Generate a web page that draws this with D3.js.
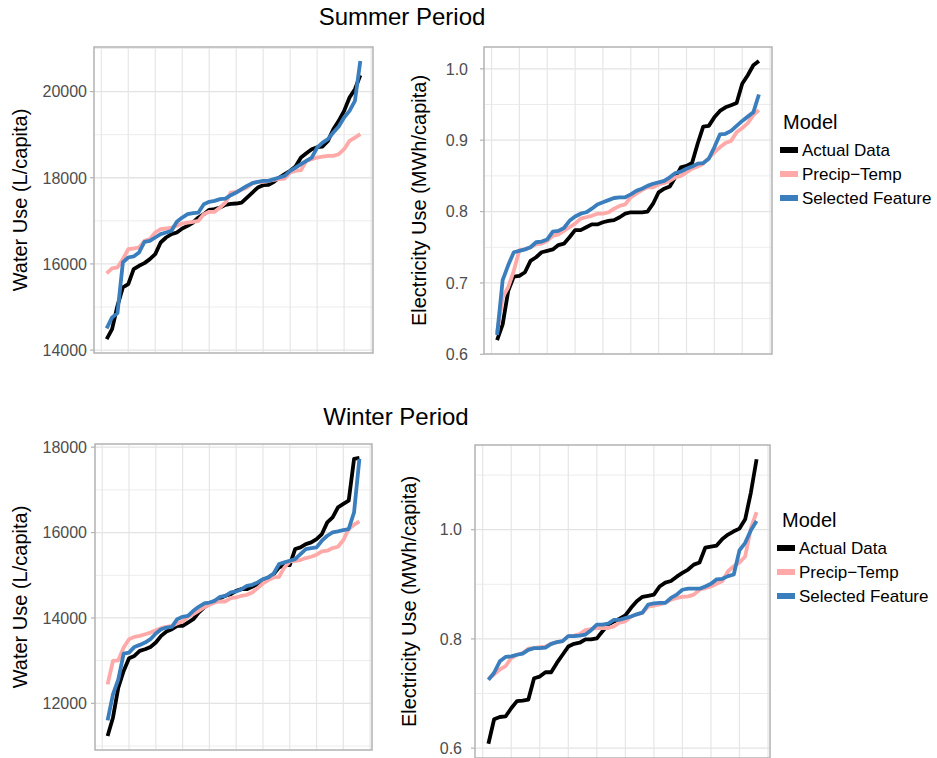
<!DOCTYPE html>
<html>
<head>
<meta charset="utf-8">
<script src="https://cdn.jsdelivr.net/npm/d3@7"></script>
<style>
  body { margin: 0; background: #fff; }
  svg { font-family: "Liberation Sans", Arial, sans-serif; }
</style>
</head>
<body>
<div id="chart"></div>
<script>
////////////////////////////////////////////////////////////
//////////////////////// Data //////////////////////////////
////////////////////////////////////////////////////////////
var models = ["Actual Data", "Precip\u2212Temp", "Selected Feature"];
var modelColors = ["#000000", "#ffa9a9", "#3a7ebd"];

var summerWaterActual = [14255,14487,15028,15454,15531,15879,15956,16018,16111,16227,16497,16613,16691,16729,16822,16884,16961,17077,17155,17255,17271,17309,17371,17394,17402,17425,17541,17657,17773,17827,17835,17905,18005,18083,18160,18260,18469,18570,18662,18709,18724,18856,19126,19320,19552,19861,20054,20379];
var summerWaterPrecip = [15778,15894,15917,16111,16343,16358,16381,16536,16575,16729,16807,16822,16845,16884,16938,16961,16977,17000,17155,17209,17209,17309,17425,17657,17673,17719,17773,17874,17905,17905,17928,17951,17967,17982,18121,18160,18175,18392,18430,18469,18492,18508,18508,18546,18662,18856,18933,19010];
var summerWaterSelected = [14503,14758,14858,16034,16149,16173,16266,16513,16536,16613,16691,16729,16768,16977,17077,17155,17178,17193,17387,17441,17464,17503,17518,17595,17657,17735,17812,17874,17905,17928,17928,17967,18005,18044,18160,18237,18315,18392,18469,18701,18817,18896,19050,19188,19397,19552,19784,20712];

var summerElecActual = [0.620,0.642,0.689,0.709,0.710,0.715,0.731,0.736,0.743,0.745,0.747,0.753,0.755,0.764,0.774,0.774,0.778,0.782,0.782,0.785,0.787,0.788,0.792,0.797,0.799,0.799,0.799,0.800,0.811,0.827,0.832,0.835,0.848,0.862,0.864,0.868,0.895,0.919,0.920,0.932,0.941,0.946,0.949,0.952,0.979,0.991,1.005,1.011];
var summerElecPrecip = [0.630,0.680,0.694,0.717,0.746,0.747,0.750,0.754,0.755,0.759,0.766,0.768,0.773,0.778,0.783,0.790,0.792,0.794,0.797,0.797,0.799,0.804,0.808,0.810,0.820,0.825,0.830,0.834,0.834,0.838,0.840,0.843,0.848,0.850,0.855,0.860,0.863,0.867,0.875,0.883,0.890,0.896,0.899,0.911,0.917,0.924,0.935,0.942];
var summerElecSelected = [0.627,0.704,0.725,0.743,0.745,0.747,0.750,0.757,0.758,0.761,0.772,0.773,0.777,0.787,0.793,0.797,0.799,0.804,0.810,0.813,0.816,0.819,0.820,0.820,0.824,0.829,0.832,0.836,0.839,0.841,0.843,0.848,0.854,0.856,0.860,0.863,0.867,0.868,0.874,0.890,0.908,0.909,0.913,0.920,0.927,0.933,0.939,0.964];

var winterWaterActual = [11233,11664,12368,12759,13056,13111,13228,13267,13322,13424,13580,13682,13736,13815,13815,13893,13971,14128,14245,14323,14401,14464,14519,14558,14636,14675,14675,14730,14792,14886,14949,15027,15184,15240,15240,15614,15653,15731,15770,15848,15966,16239,16357,16591,16670,16748,17726,17749];
var winterWaterPrecip = [12446,12993,13009,13306,13502,13557,13580,13619,13658,13713,13760,13791,13815,13869,13916,14026,14088,14167,14245,14307,14362,14386,14386,14464,14480,14519,14542,14597,14699,14808,14886,14949,14965,15184,15324,15340,15356,15403,15434,15481,15559,15575,15637,15668,15825,16083,16185,16263];
var winterWaterSelected = [11601,12211,12563,13165,13189,13322,13369,13424,13502,13635,13736,13776,13791,13971,14026,14049,14167,14261,14339,14362,14401,14495,14519,14597,14620,14675,14753,14777,14832,14910,14949,15043,15262,15301,15340,15379,15496,15614,15637,15653,15809,15926,16005,16028,16060,16083,16474,17726];

var winterElecActual = [0.608,0.653,0.657,0.658,0.673,0.686,0.687,0.689,0.728,0.731,0.739,0.739,0.756,0.771,0.786,0.791,0.793,0.799,0.799,0.801,0.814,0.826,0.832,0.837,0.843,0.857,0.869,0.877,0.879,0.881,0.896,0.903,0.906,0.914,0.921,0.927,0.936,0.940,0.967,0.969,0.971,0.983,0.991,0.997,1.002,1.019,1.068,1.129];
var winterElecPrecip = [0.727,0.735,0.744,0.750,0.765,0.771,0.774,0.782,0.783,0.785,0.786,0.791,0.794,0.796,0.805,0.806,0.809,0.816,0.818,0.820,0.820,0.820,0.823,0.830,0.832,0.841,0.845,0.848,0.859,0.861,0.863,0.866,0.872,0.875,0.877,0.878,0.881,0.890,0.893,0.896,0.901,0.906,0.924,0.933,0.940,0.951,1.003,1.032];
var winterElecSelected = [0.725,0.738,0.759,0.767,0.768,0.771,0.773,0.780,0.783,0.783,0.784,0.791,0.794,0.796,0.805,0.805,0.806,0.808,0.816,0.826,0.826,0.828,0.835,0.835,0.838,0.841,0.845,0.848,0.863,0.865,0.866,0.866,0.875,0.881,0.890,0.892,0.892,0.892,0.896,0.901,0.909,0.910,0.915,0.918,0.962,0.976,0.999,1.016];

// axis breaks
var xBreaks = [0, 5, 10, 15, 20, 25, 30, 35, 40, 45, 50];
var summerWaterTicks = [14000, 16000, 18000, 20000];
var summerWaterMinor = [15000, 17000, 19000, 21000];
var summerElecTicks = [0.6, 0.7, 0.8, 0.9, 1.0];
var summerElecMinor = [0.65, 0.75, 0.85, 0.95];
var winterWaterTicks = [12000, 14000, 16000, 18000];
var winterWaterMinor = [11000, 13000, 15000, 17000];
var winterElecTicks = [0.6, 0.8, 1.0];
var winterElecMinor = [0.7, 0.9, 1.1];

////////////////////////////////////////////////////////////
//////////////////////// Setup /////////////////////////////
////////////////////////////////////////////////////////////
var W = 937, H = 758;

var svg = d3.select("#chart").append("svg")
  .attr("width", W).attr("height", H);

var panels = [
  {x0: 94, x1: 373, y0: 47, y1: 353, series: [summerWaterActual, summerWaterPrecip, summerWaterSelected],
   ticks: summerWaterTicks, minor: summerWaterMinor, fmt: d3.format("d"), labelX: 87, title: "Water Use (L/capita)", titleX: 20},
  {x0: 484, x1: 772, y0: 47, y1: 354, series: [summerElecActual, summerElecPrecip, summerElecSelected],
   ticks: summerElecTicks, minor: summerElecMinor, fmt: d3.format(".1f"), labelX: 468, title: "Electricity Use (MWh/capita)", titleX: 419},
  {x0: 95, x1: 372, y0: 444, y1: 750, series: [winterWaterActual, winterWaterPrecip, winterWaterSelected],
   ticks: winterWaterTicks, minor: winterWaterMinor, fmt: d3.format("d"), labelX: 87, title: "Water Use (L/capita)", titleX: 20},
  {x0: 475, x1: 770, y0: 445, y1: 758, series: [winterElecActual, winterElecPrecip, winterElecSelected],
   ticks: winterElecTicks, minor: winterElecMinor, fmt: d3.format(".1f"), labelX: 462, title: "Electricity Use (MWh/capita)", titleX: 409}
];

// ggplot style 5% expansion
function expand(ext){
  var r = ext[1] - ext[0];
  return [ext[0] - r * 0.05, ext[1] + r * 0.05];
}

////////////////////////////////////////////////////////////
//////////////////////// Panels ////////////////////////////
////////////////////////////////////////////////////////////
panels.forEach(function(p){
  var n = p.series[0].length;
  var x = d3.scaleLinear().domain(expand([1, n])).range([p.x0, p.x1]);
  var all = d3.merge(p.series);
  var y = d3.scaleLinear().domain(expand(d3.extent(all))).range([p.y1, p.y0]);

  var g = svg.append("g");

  g.append("defs").append("clipPath").attr("id", "clip" + p.x0 + p.y0)
    .append("rect")
    .attr("x", p.x0).attr("y", p.y0)
    .attr("width", p.x1 - p.x0).attr("height", p.y1 - p.y0);

  var grid = g.append("g").attr("clip-path", "url(#clip" + p.x0 + p.y0 + ")");

  grid.selectAll(".minorY").data(p.minor).enter().append("line")
    .attr("x1", p.x0).attr("x2", p.x1)
    .attr("y1", function(d){ return y(d); }).attr("y2", function(d){ return y(d); })
    .attr("stroke", "#ececec").attr("stroke-width", 1);

  grid.selectAll(".majorY").data(p.ticks).enter().append("line")
    .attr("x1", p.x0).attr("x2", p.x1)
    .attr("y1", function(d){ return y(d); }).attr("y2", function(d){ return y(d); })
    .attr("stroke", "#e3e3e3").attr("stroke-width", 1.3);

  grid.selectAll(".gridX").data(xBreaks).enter().append("line")
    .attr("y1", p.y0).attr("y2", p.y1)
    .attr("x1", function(d){ return x(d); }).attr("x2", function(d){ return x(d); })
    .attr("stroke", "#e6e6e6").attr("stroke-width", 1.2);

  var line = d3.line()
    .x(function(d, i){ return x(i + 1); })
    .y(function(d){ return y(d); });

  grid.selectAll(".series").data(p.series).enter().append("path")
    .attr("d", line)
    .attr("fill", "none")
    .attr("stroke", function(d, i){ return modelColors[i]; })
    .attr("stroke-width", 3.8)
    .attr("stroke-linejoin", "round");

  g.append("rect")
    .attr("x", p.x0).attr("y", p.y0)
    .attr("width", p.x1 - p.x0).attr("height", p.y1 - p.y0)
    .attr("fill", "none").attr("stroke", "#b3b3b3").attr("stroke-width", 1.5);

  // y ticks and labels
  g.selectAll(".tick").data(p.ticks).enter().append("line")
    .attr("x1", p.x0 - 4).attr("x2", p.x0)
    .attr("y1", function(d){ return y(d); }).attr("y2", function(d){ return y(d); })
    .attr("stroke", "#b3b3b3").attr("stroke-width", 1.2);

  g.selectAll(".label").data(p.ticks).enter().append("text")
    .attr("x", p.labelX)
    .attr("y", function(d){ return y(d); })
    .attr("dy", "0.36em")
    .attr("text-anchor", "end")
    .attr("fill", "#4d4d4d")
    .style("font-size", "16px")
    .text(p.fmt);

  g.append("text")
    .attr("transform", "translate(" + p.titleX + "," + ((p.y0 + p.y1) / 2) + ") rotate(-90)")
    .attr("dy", "0.36em")
    .attr("text-anchor", "middle")
    .style("font-size", "20px")
    .text(p.title);
});

////////////////////////////////////////////////////////////
//////////////////////// Titles & legends //////////////////
////////////////////////////////////////////////////////////
svg.append("text").attr("x", 402).attr("y", 25)
  .attr("text-anchor", "middle").style("font-size", "24px").text("Summer Period");
svg.append("text").attr("x", 396).attr("y", 425)
  .attr("text-anchor", "middle").style("font-size", "24px").text("Winter Period");

var legends = [
  {x: 783, titleY: 129, keyX: 780, textX: 802, rowY: 150},
  {x: 782, titleY: 527, keyX: 777, textX: 799, rowY: 548}
];

legends.forEach(function(l){
  var lg = svg.append("g");
  lg.append("text").attr("x", l.x).attr("y", l.titleY)
    .style("font-size", "20px").text("Model");
  var rows = lg.selectAll(".row").data(models).enter().append("g")
    .attr("transform", function(d, i){ return "translate(0," + (l.rowY + i * 24) + ")"; });
  rows.append("rect")
    .attr("x", l.keyX).attr("y", -3).attr("width", 18).attr("height", 6)
    .attr("fill", function(d, i){ return modelColors[i]; });
  rows.append("text")
    .attr("x", l.textX).attr("dy", "0.36em")
    .style("font-size", "17px")
    .text(function(d){ return d; });
});
</script>
</body>
</html>
